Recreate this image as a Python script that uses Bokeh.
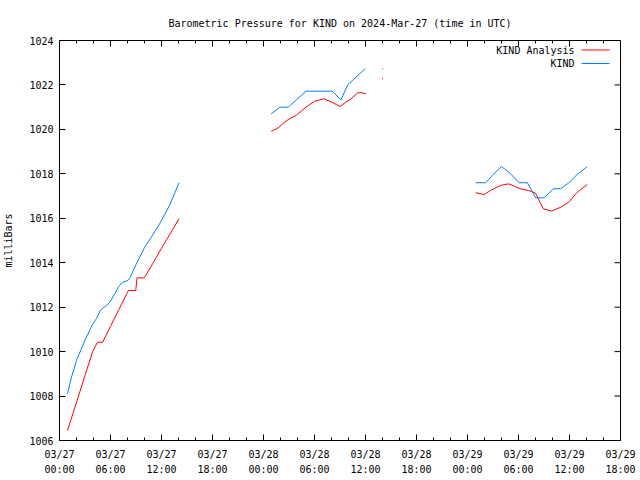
import math
from bokeh.plotting import figure
from bokeh.models import FixedTicker, Range1d
from bokeh.core.properties import value
from bokeh.embed import file_html
from bokeh.resources import INLINE

TITLE = "Barometric Pressure for KIND on 2024-Mar-27 (time in UTC)"
Y_LABEL = "milliBars"
NAN = float("nan")

# hours since 2024-03-27 00:00 UTC
X_TICK_HOURS = [0, 6, 12, 18, 24, 30, 36, 42, 48, 54, 60, 66]
X_TICK_LABELS = ["03/27\n00:00", "03/27\n06:00", "03/27\n12:00", "03/27\n18:00",
                 "03/28\n00:00", "03/28\n06:00", "03/28\n12:00", "03/28\n18:00",
                 "03/29\n00:00", "03/29\n06:00", "03/29\n12:00", "03/29\n18:00"]
X_MINOR_HOURS = list(range(0, 67, 2))
Y_TICKS = [1006, 1008, 1010, 1012, 1014, 1016, 1018, 1020, 1022, 1024]

ANALYSIS_HOURS = [0.94, 2.0, 3.0, 3.88, 4.45, 5.07, 6.0, 7.0, 8.1, 8.97, 9.12, 9.98,
                  11.0, 12.0, 13.0, 14.06,
                  NAN,
                  24.9, 25.7, 26.5, 27.05, 27.84, 29.0, 30.0, 31.1, 32.0, 33.0, 33.7,
                  34.3, 35.1, 35.5, 36.05,
                  NAN,
                  38.0,
                  NAN,
                  48.97, 49.95, 50.7, 51.9, 52.86, 53.6, 54.2, 55.2, 56.0, 56.9, 57.9,
                  58.97, 59.9, 60.9, 62.09]
ANALYSIS_MB = [1006.45, 1007.72, 1008.93, 1009.97, 1010.42, 1010.42, 1011.14, 1011.91,
               1012.75, 1012.75, 1013.32, 1013.32, 1013.98, 1014.65, 1015.29, 1015.98,
               NAN,
               1019.91, 1020.06, 1020.33, 1020.48, 1020.63, 1021.0, 1021.26, 1021.38,
               1021.23, 1021.03, 1021.23, 1021.38, 1021.65, 1021.65, 1021.6,
               NAN,
               1022.28,
               NAN,
               1017.15, 1017.07, 1017.25, 1017.48, 1017.55, 1017.43, 1017.33, 1017.25,
               1017.13, 1016.43, 1016.32, 1016.5, 1016.72, 1017.17, 1017.52]

KIND_HOURS = [0.94, 1.41, 2.0, 2.98, 3.88, 4.34, 4.85, 5.52, 5.91, 6.5, 6.97, 7.48,
              8.06, 8.34, 9.04, 10.02, 10.8, 11.78, 12.95, 14.06,
              NAN,
              24.9, 25.95, 26.93, 29.0, 32.06, 33.12, 33.9, 34.88, 35.97,
              NAN,
              38.0,
              NAN,
              48.97, 50.15, 50.93, 52.0, 53.07, 54.06, 55.04, 56.02, 57.0, 58.1, 58.97,
              59.93, 60.9, 62.09]
KIND_MB = [1008.10, 1008.85, 1009.6, 1010.5, 1011.22, 1011.48, 1011.88, 1012.07,
           1012.22, 1012.6, 1012.93, 1013.13, 1013.2, 1013.35, 1013.95, 1014.70,
           1015.15, 1015.75, 1016.58, 1017.6,
           NAN,
           1020.70, 1021.0, 1021.0, 1021.72, 1021.72, 1021.33, 1022.0, 1022.35, 1022.73,
           NAN,
           1022.73,
           NAN,
           1017.6, 1017.6, 1017.93, 1018.33, 1018.0, 1017.6, 1017.6, 1016.92, 1016.92,
           1017.33, 1017.33, 1017.6, 1017.97, 1018.33]

SERIES_NAMES = ["KIND Analysis", "KIND"]
SERIES_COLORS = ["#ff0000", "#0080ff"]

FONT = "DejaVu Sans Mono"
FS = "10px"

X0, X1 = 0, 66
Y0, Y1 = 1006, 1024
LEFT, RIGHT, TOP, BOTTOM = 58, 20, 40, 40
W, H = 640, 480
FW, FH = W - LEFT - RIGHT, H - TOP - BOTTOM
MAJOR_LEN, MINOR_LEN = 6, 3

p = figure(width=W, height=H, x_range=Range1d(X0, X1), y_range=Range1d(Y0, Y1),
           output_backend="svg", toolbar_location=None,
           min_border_left=LEFT, min_border_right=RIGHT,
           min_border_top=TOP, min_border_bottom=BOTTOM)
p.background_fill_color = "white"
p.border_fill_color = "white"
p.outline_line_color = "black"
p.outline_line_width = 1
p.outline_line_alpha = 1
p.grid.visible = False

p.title.text = TITLE
p.title.align = "center"
p.title.text_font = FONT
p.title.text_font_size = FS
p.title.text_font_style = "normal"
p.title.text_color = "black"
p.title.standoff = 24


def style_axis(ax, major, minor):
    ax.axis_line_color = None
    ax.major_tick_in = major
    ax.major_tick_out = 0
    ax.minor_tick_in = minor
    ax.minor_tick_out = 0
    ax.major_tick_line_color = "black"
    ax.minor_tick_line_color = "black"
    ax.major_label_text_font = FONT
    ax.major_label_text_font_size = FS
    ax.major_label_text_color = "black"


xa = p.xaxis[0]
xa.ticker = FixedTicker(ticks=X_TICK_HOURS, minor_ticks=X_MINOR_HOURS)
style_axis(xa, MAJOR_LEN, MINOR_LEN)
xa.major_label_overrides = {h: l for h, l in zip(X_TICK_HOURS, X_TICK_LABELS)}
xa.major_label_standoff = 8
xa.major_label_text_line_height = 1.4

ya = p.yaxis[0]
ya.ticker = FixedTicker(ticks=Y_TICKS, minor_ticks=[])
style_axis(ya, MAJOR_LEN, 0)
ya.major_label_standoff = 6
ya.axis_label = Y_LABEL
ya.axis_label_text_font = FONT
ya.axis_label_text_font_size = FS
ya.axis_label_text_font_style = "normal"
ya.axis_label_text_color = "black"
ya.axis_label_standoff = 12


# conversions from frame pixels to data units (for ticks mirrored and legend)
def dx(px):
    return px / FW * (X1 - X0)


def dy(py):
    return py / FH * (Y1 - Y0)


# mirrored ticks on the top and right edges (gnuplot style)
minor_only = [h for h in X_MINOR_HOURS if h not in X_TICK_HOURS]
p.segment(x0=X_TICK_HOURS, y0=[Y1] * len(X_TICK_HOURS),
          x1=X_TICK_HOURS, y1=[Y1 - dy(MAJOR_LEN)] * len(X_TICK_HOURS),
          line_color="black", line_width=1)
p.segment(x0=minor_only, y0=[Y1] * len(minor_only),
          x1=minor_only, y1=[Y1 - dy(MINOR_LEN)] * len(minor_only),
          line_color="black", line_width=1)
p.segment(x0=[X1] * len(Y_TICKS), y0=Y_TICKS,
          x1=[X1 - dx(MAJOR_LEN)] * len(Y_TICKS), y1=Y_TICKS,
          line_color="black", line_width=1)

for hours, mb, color in [(ANALYSIS_HOURS, ANALYSIS_MB, SERIES_COLORS[0]),
                         (KIND_HOURS, KIND_MB, SERIES_COLORS[1])]:
    p.line(hours, mb, line_color=color, line_width=1)
    # isolated readings (no neighbour on either side) are drawn as single dots
    iso_x, iso_y = [], []
    for i, (h, v) in enumerate(zip(hours, mb)):
        if math.isnan(h):
            continue
        prev_ok = i > 0 and not math.isnan(hours[i - 1])
        next_ok = i < len(hours) - 1 and not math.isnan(hours[i + 1])
        if not prev_ok and not next_ok:
            iso_x.append(h)
            iso_y.append(v)
    if iso_x:
        p.rect(iso_x, iso_y, width=1, height=1, width_units="screen",
               height_units="screen", fill_color=color, line_color=None)

# legend (gnuplot style: label then sample line), placed in frame pixels
rows = [Y1 - dy(9.5), Y1 - dy(23.0)]
p.text(x=[X0 + dx(516)] * 2, y=rows, text=SERIES_NAMES,
       text_align="right", text_baseline="middle", text_font=value(FONT),
       text_font_size=FS, text_color="black")
p.segment(x0=[X0 + dx(523)] * 2, y0=rows, x1=[X0 + dx(551)] * 2, y1=rows,
          line_color=SERIES_COLORS, line_width=1)

open("out.html", "w").write(file_html(p, INLINE))
